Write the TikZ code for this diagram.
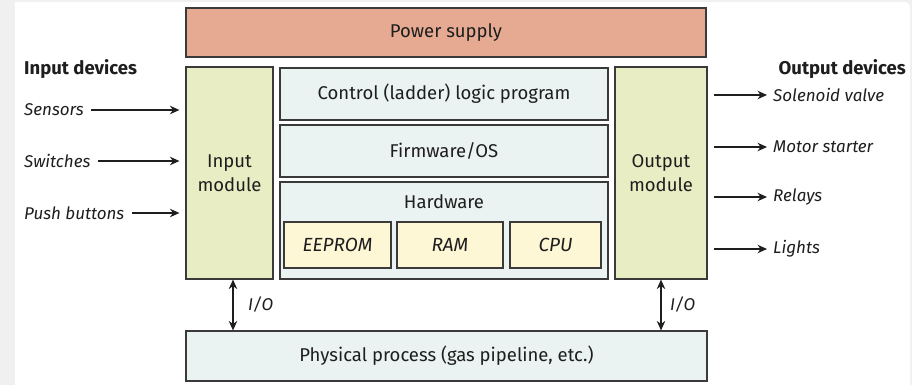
\documentclass[tikz,border=0pt]{standalone}
\usepackage{fontspec}
\setmainfont{Fira Sans}
\usetikzlibrary{arrows.meta}
\definecolor{bggray}{HTML}{F0F0F0}
\definecolor{edge}{HTML}{3A3A3A}
\definecolor{txt}{HTML}{1E1E1E}
\definecolor{powerfill}{HTML}{E6AA92}
\definecolor{modfill}{HTML}{E8EDC3}
\definecolor{corefill}{HTML}{EAF3F1}
\definecolor{chipfill}{HTML}{FDF7D6}
\newcommand{\mfont}{\fontsize{18.5}{24.5}\selectfont}
\newcommand{\ifont}{\fontsize{17}{20}\selectfont\itshape}
\newcommand{\cfont}{\fontsize{19}{20}\selectfont\itshape}
\tikzset{
  blk/.style={draw=edge, line width=1.2pt, rectangle, inner sep=0pt, text=txt, align=center, font=\mfont},
  chip/.style={blk, fill=chipfill, minimum height=46, font=\cfont},
  lbl/.style={inner sep=0pt, text=txt, font=\ifont},
  head/.style={inner sep=0pt, text=txt, font=\fontsize{18.5}{20}\selectfont\bfseries},
  arr/.style={draw=txt, line width=1.2pt, -{Stealth[length=9.5pt,width=8.5pt]}},
  darr/.style={draw=txt, line width=1.2pt, {Stealth[length=9.5pt,width=8.5pt]}-{Stealth[length=9.5pt,width=8.5pt]}}
}
\begin{document}
\begin{tikzpicture}[x=1pt,y=-1pt]
\useasboundingbox (0,0) rectangle (912,385);
\fill[bggray] (0,0) rectangle (912,385);
\fill[white] (15,2) -- (905,2) to[out=0,in=90] (910,7) -- (910,385) -- (15,385) -- cycle;

\node[blk, fill=powerfill, minimum width=520, minimum height=49] (power) at (446,32.5) {Power supply};
\node[blk, fill=modfill, minimum width=87, minimum height=212] (inmod) at (229.5,173) {Input\\module};
\node[blk, fill=modfill, minimum width=92, minimum height=212] (outmod) at (661,173) {Output\\module};
\node[blk, fill=corefill, minimum width=328, minimum height=52] (ctrl) at (444,94) {Control (ladder) logic program};
\node[blk, fill=corefill, minimum width=328, minimum height=52] (fw) at (444,151) {Firmware/OS};
\node[blk, fill=corefill, minimum width=328, minimum height=97] (hw) at (444,230.5) {};
\node[inner sep=0pt, text=txt, font=\mfont] (hwl) at (444,202) {Hardware};
\node[chip, minimum width=107] (eeprom) at (337.5,245) {EEPROM};
\node[chip, minimum width=106] (ram) at (450,245) {RAM};
\node[chip, minimum width=91] (cpu) at (555.5,245) {CPU};
\node[blk, fill=corefill, minimum width=521, minimum height=50] (phys) at (446.5,356) {Physical process (gas pipeline, etc.)};

\node[head, anchor=west] (indev) at (24,69) {Input devices};
\node[head, anchor=east] (outdev) at (906,69) {Output devices};

\node[lbl, anchor=west] (sens) at (24,110) {Sensors};
\node[lbl, anchor=west] (sw) at (24,161) {Switches};
\node[lbl, anchor=west] (pb) at (24,213) {Push buttons};
\draw[arr, shorten <=7pt, shorten >=6pt] (sens.east) -- (sens.east -| inmod.west);
\draw[arr, shorten <=7pt, shorten >=6pt] (sw.east) -- (sw.east -| inmod.west);
\draw[arr, shorten <=7pt, shorten >=6pt] (pb.east) -- (pb.east -| inmod.west);

\node[lbl, anchor=west] (sol) at (773,95) {Solenoid valve};
\node[lbl, anchor=west] (mot) at (773,147) {Motor starter};
\node[lbl, anchor=west] (rel) at (773,197) {Relays};
\node[lbl, anchor=west] (lig) at (773,249) {Lights};
\draw[arr, shorten <=6pt, shorten >=6pt] (sol.west -| outmod.east) -- (sol.west);
\draw[arr, shorten <=6pt, shorten >=6pt] (mot.west -| outmod.east) -- (mot.west);
\draw[arr, shorten <=6pt, shorten >=6pt] (rel.west -| outmod.east) -- (rel.west);
\draw[arr, shorten <=6pt, shorten >=6pt] (lig.west -| outmod.east) -- (lig.west);

\coordinate (io1) at (233,0);
\coordinate (io2) at (661,0);
\draw[darr] (io1 |- inmod.south) -- (io1 |- phys.north);
\draw[darr] (io2 |- outmod.south) -- (io2 |- phys.north);
\node[lbl, anchor=west] (iol) at (248,305) {I/O};
\node[lbl, anchor=west] (ior) at (670,305) {I/O};
\end{tikzpicture}
\end{document}
